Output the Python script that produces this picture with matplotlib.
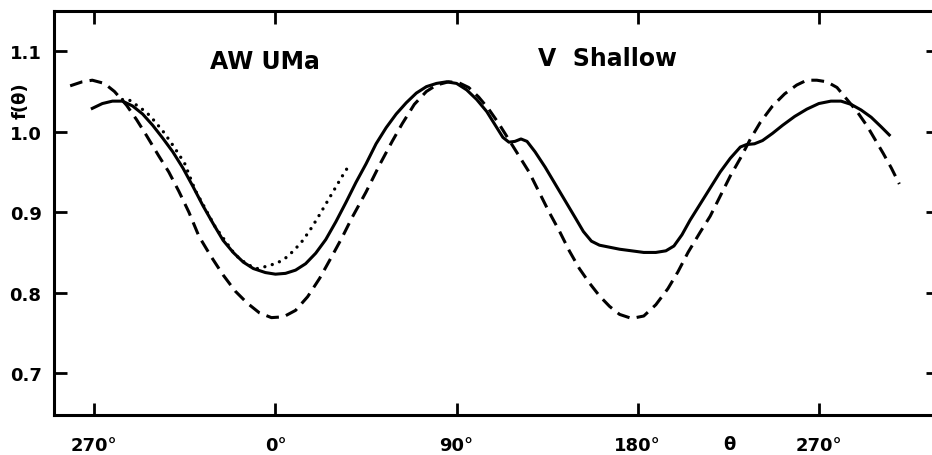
import matplotlib
matplotlib.use('Agg')
from matplotlib import pyplot as plt

# dashed curve (theta in degrees, f(theta))
dash_theta = [-102, -96, -91, -85, -80, -74, -69, -64, -58, -53, -48, -43, -38, -32,
              -26, -20, -14, -8, -2, 4, 10, 16, 22, 28, 33, 38, 45, 52, 58, 63, 69,
              75, 80, 86, 91, 96, 101, 106, 111, 116, 121, 126, 131, 136, 141, 146,
              151, 156, 161, 166, 171, 177, 183, 189, 195, 200, 205, 211, 216, 221,
              226, 231, 236, 241, 247, 253, 259, 264, 269, 274, 279, 284, 289, 294,
              298, 302, 306, 310]
dash_f = [1.057, 1.062, 1.064, 1.060, 1.050, 1.033, 1.015, 0.995, 0.970, 0.950, 0.926,
          0.900, 0.870, 0.845, 0.822, 0.802, 0.787, 0.775, 0.769, 0.770, 0.778, 0.795,
          0.818, 0.845, 0.868, 0.893, 0.925, 0.960, 0.988, 1.010, 1.034, 1.050, 1.058,
          1.062, 1.061, 1.055, 1.043, 1.028, 1.010, 0.990, 0.970, 0.950, 0.925, 0.900,
          0.877, 0.852, 0.830, 0.812, 0.796, 0.783, 0.773, 0.768, 0.771, 0.785, 0.805,
          0.826, 0.850, 0.875, 0.895, 0.920, 0.945, 0.967, 0.991, 1.012, 1.032, 1.047,
          1.058, 1.064, 1.064, 1.062, 1.055, 1.040, 1.025, 1.007, 0.990, 0.973, 0.955,
          0.935]

# solid curve
solid_theta = [-91, -86, -81, -76, -71, -66, -61, -56, -51, -46, -41, -36, -31, -26,
               -21, -16, -11, -5, 0, 5, 10, 15, 20, 25, 30, 35, 40, 45, 50, 55, 60, 65,
               70, 75, 80, 85, 90, 95, 100, 105, 110, 113, 116, 119, 122, 125, 129,
               134, 139, 144, 149, 153, 157, 161, 165, 171, 177, 183, 189, 194, 198,
               202, 206, 211, 216, 221, 226, 231, 234, 238, 242, 247, 252, 258, 264,
               270, 276, 281, 286, 291, 296, 301, 305]
solid_f = [1.029, 1.035, 1.038, 1.038, 1.032, 1.022, 1.008, 0.992, 0.975, 0.955, 0.932,
           0.908, 0.886, 0.865, 0.850, 0.838, 0.830, 0.825, 0.823, 0.824, 0.828, 0.836,
           0.849, 0.866, 0.888, 0.912, 0.937, 0.960, 0.985, 1.005, 1.022, 1.036, 1.048,
           1.056, 1.060, 1.062, 1.060, 1.052, 1.040, 1.025, 1.005, 0.993, 0.987, 0.988,
           0.991, 0.988, 0.975, 0.956, 0.935, 0.914, 0.893, 0.876, 0.864, 0.859, 0.857,
           0.854, 0.852, 0.850, 0.850, 0.852, 0.858, 0.872, 0.890, 0.910, 0.930, 0.950,
           0.967, 0.981, 0.984, 0.985, 0.989, 0.998, 1.008, 1.019, 1.028, 1.035, 1.038,
           1.038, 1.034, 1.027, 1.018, 1.006, 0.996]

# dotted curve (AW UMa)
dot_theta = [-76, -73, -69, -64, -60, -56, -52, -48, -45, -40, -30, -20, -14, -9, -4,
             1, 5, 9, 13, 17, 21, 25, 29, 33, 37]
dot_f = [1.040, 1.040, 1.033, 1.024, 1.013, 1.001, 0.987, 0.972, 0.960, 0.928, 0.882,
         0.847, 0.835, 0.830, 0.833, 0.837, 0.843, 0.852, 0.863, 0.877, 0.893, 0.910,
         0.927, 0.944, 0.960]

xticks = [-90, 0, 90, 180, 270]
xticklabels = ['270°', '0°', '90°', '180°', '270°']
yticks = [0.7, 0.8, 0.9, 1.0, 1.1]
yticklabels = ['0.7', '0.8', '0.9', '1.0', '1.1']

fig = plt.figure(figsize=(9.32, 4.56), dpi=100)
ax = fig.add_axes([0.058, 0.0877, 0.948, 0.886])

ax.plot(dash_theta, dash_f, color='black', lw=2.2, linestyle=(0, (4.2, 2.4)))
ax.plot(solid_theta, solid_f, color='black', lw=2.2)
ax.plot(dot_theta, dot_f, color='black', lw=2.4, linestyle=(0, (0.01, 2.3)),
        dash_capstyle='round')

ax.set_xlim(-110, 329)
ax.set_ylim(0.648, 1.150)
ax.set_xticks(xticks)
ax.set_xticklabels(xticklabels, fontweight='bold')
ax.set_yticks(yticks)
ax.set_yticklabels(yticklabels, fontweight='bold')

for s in ax.spines.values():
    s.set_linewidth(2.2)
ax.tick_params(axis='both', direction='in', length=9, width=2, labelsize=13,
               top=True, right=True)
ax.tick_params(axis='x', pad=15)
ax.tick_params(axis='y', pad=9)

ax.text(0.239, 0.877, 'AW UMa', transform=ax.transAxes, fontsize=17,
        fontweight='bold', ha='center', va='center')
ax.text(0.626, 0.884, 'V  Shallow', transform=ax.transAxes, fontsize=17,
        fontweight='bold', ha='center', va='center')
fig.text(0.022, 0.78, 'f(θ)', rotation=90, fontsize=13, fontweight='bold',
         ha='center', va='center')
fig.text(0.783, 0.025, 'θ', fontsize=13, fontweight='bold', ha='center', va='center')

plt.savefig('out.png', dpi=100)
